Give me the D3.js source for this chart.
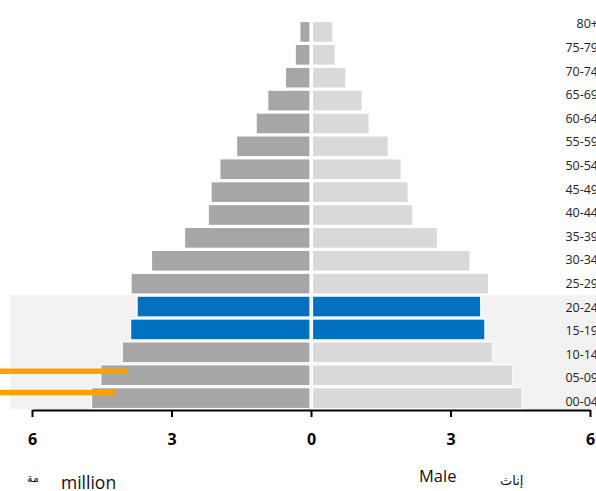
<!DOCTYPE html>
<html>
<head>
<meta charset="utf-8">
<script src="https://cdn.jsdelivr.net/npm/d3@7"></script>
<style>
  body { margin: 0; background: #fff; }
  svg { display: block; font-family: "Open Sans", sans-serif; }
</style>
</head>
<body>
<svg width="596" height="491"></svg>
<script>
// age groups, top to bottom
const ages = ["80+", "75-79", "70-74", "65-69", "60-64", "55-59", "50-54", "45-49", "40-44",
  "35-39", "30-34", "25-29", "20-24", "15-19", "10-14", "05-09", "00-04"];

// millions, left and right halves
const leftValues = [0.24, 0.34, 0.55, 0.93, 1.18, 1.6, 1.96, 2.15, 2.21,
  2.72, 3.43, 3.87, 3.74, 3.88, 4.06, 4.52, 4.72];
const rightValues = [0.47, 0.52, 0.75, 1.10, 1.25, 1.66, 1.94, 2.09, 2.19,
  2.72, 3.42, 3.82, 3.65, 3.74, 3.91, 4.34, 4.54];

const highlightAges = ["20-24", "15-19"];
const shadedAges = ["20-24", "15-19", "10-14", "05-09", "00-04"];

// orange reference lines
const markerAges = ["05-09", "00-04"];
const markerValues = [3.94, 4.2];

const tickValues = [-6, -3, 0, 3, 6];

const svg = d3.select("svg");
const cx = 311;

const y = d3.scaleBand()
  .domain(ages)
  .range([21.5, 408.5])
  .paddingInner(0.09);

// labels sit on their own, slightly wider spacing
const yLabel = d3.scaleBand()
  .domain(ages)
  .range([12.2, 413.5]);

const xLeft = d3.scaleLinear().domain([0, 6]).range([cx, 32]);
const xRight = d3.scaleLinear().domain([0, 6]).range([cx, 590]);
const xAxisScale = d3.scaleLinear().domain([-6, 6]).range([32, 590]);

// shaded block behind the lower rows
const shadeTop = y(shadedAges[0]) - 1;
const shadeBottom = y(shadedAges[shadedAges.length - 1]) + y.bandwidth() + 1;
svg.append("rect")
  .attr("x", 10)
  .attr("y", shadeTop)
  .attr("width", 600)
  .attr("height", shadeBottom - shadeTop)
  .attr("fill", "#f2f2f2");

const rows = ages.map((a, i) => ({ age: a, left: leftValues[i], right: rightValues[i] }));

svg.selectAll(".bar-left")
  .data(rows)
  .enter()
  .append("rect")
  .attr("class", "bar-left")
  .attr("x", d => xLeft(d.left))
  .attr("y", d => y(d.age))
  .attr("width", d => xLeft(0) - 1 - xLeft(d.left))
  .attr("height", y.bandwidth())
  .attr("fill", d => highlightAges.includes(d.age) ? "#0070c0" : "#a6a6a6")
  .attr("stroke", "#fff")
  .attr("stroke-width", 1.2);

svg.selectAll(".bar-right")
  .data(rows)
  .enter()
  .append("rect")
  .attr("class", "bar-right")
  .attr("x", xRight(0) + 1.5)
  .attr("y", d => y(d.age))
  .attr("width", d => xRight(d.right) - xRight(0) - 1.5)
  .attr("height", y.bandwidth())
  .attr("fill", d => highlightAges.includes(d.age) ? "#0070c0" : "#d9d9d9")
  .attr("stroke", "#fff")
  .attr("stroke-width", 1.2);

// orange markers
svg.selectAll(".marker")
  .data(markerAges.map((a, i) => ({ age: a, value: markerValues[i] })))
  .enter()
  .append("line")
  .attr("class", "marker")
  .attr("x1", xLeft(6.9))
  .attr("x2", d => xLeft(d.value))
  .attr("y1", (d, i) => y(d.age) + (i === 0 ? 6.5 : 4.8))
  .attr("y2", (d, i) => y(d.age) + (i === 0 ? 6.5 : 4.8))
  .attr("stroke", "#ffa000")
  .attr("stroke-width", 5.5);

// age labels
svg.selectAll(".age")
  .data(ages)
  .enter()
  .append("text")
  .attr("class", "age")
  .attr("x", 598)
  .attr("y", d => yLabel(d) + yLabel.bandwidth() / 2)
  .attr("dy", "0.35em")
  .attr("text-anchor", "end")
  .attr("font-size", 12.5)
  .attr("fill", "#222")
  .text(d => d);

// axis
const axis = svg.append("g")
  .attr("transform", "translate(0,410)")
  .call(d3.axisBottom(xAxisScale)
    .tickValues(tickValues)
    .tickFormat(d => Math.abs(d))
    .tickSize(7)
    .tickSizeOuter(0)
    .tickPadding(17));
axis.select(".domain").attr("stroke", "#000").attr("stroke-width", 2);
axis.selectAll(".tick line").attr("stroke", "#000").attr("stroke-width", 2);
axis.selectAll(".tick text")
  .attr("font-family", "'Open Sans', sans-serif")
  .attr("font-size", 16)
  .attr("font-weight", "bold")
  .attr("fill", "#000");

// bottom captions
svg.append("text").attr("x", 61).attr("y", 489)
  .attr("font-size", 17.5).attr("fill", "#111").text("million");
svg.append("text").attr("x", 419).attr("y", 482)
  .attr("font-size", 16.5).attr("fill", "#111").text("Male");
svg.append("text").attr("x", 500).attr("y", 485)
  .attr("font-family", "'DejaVu Sans', sans-serif")
  .attr("font-size", 13).attr("fill", "#111").text("إناث");
svg.append("text").attr("x", 27).attr("y", 482)
  .attr("font-family", "'DejaVu Sans', sans-serif")
  .attr("font-size", 11).attr("fill", "#111").text("مة");
</script>
</body>
</html>
